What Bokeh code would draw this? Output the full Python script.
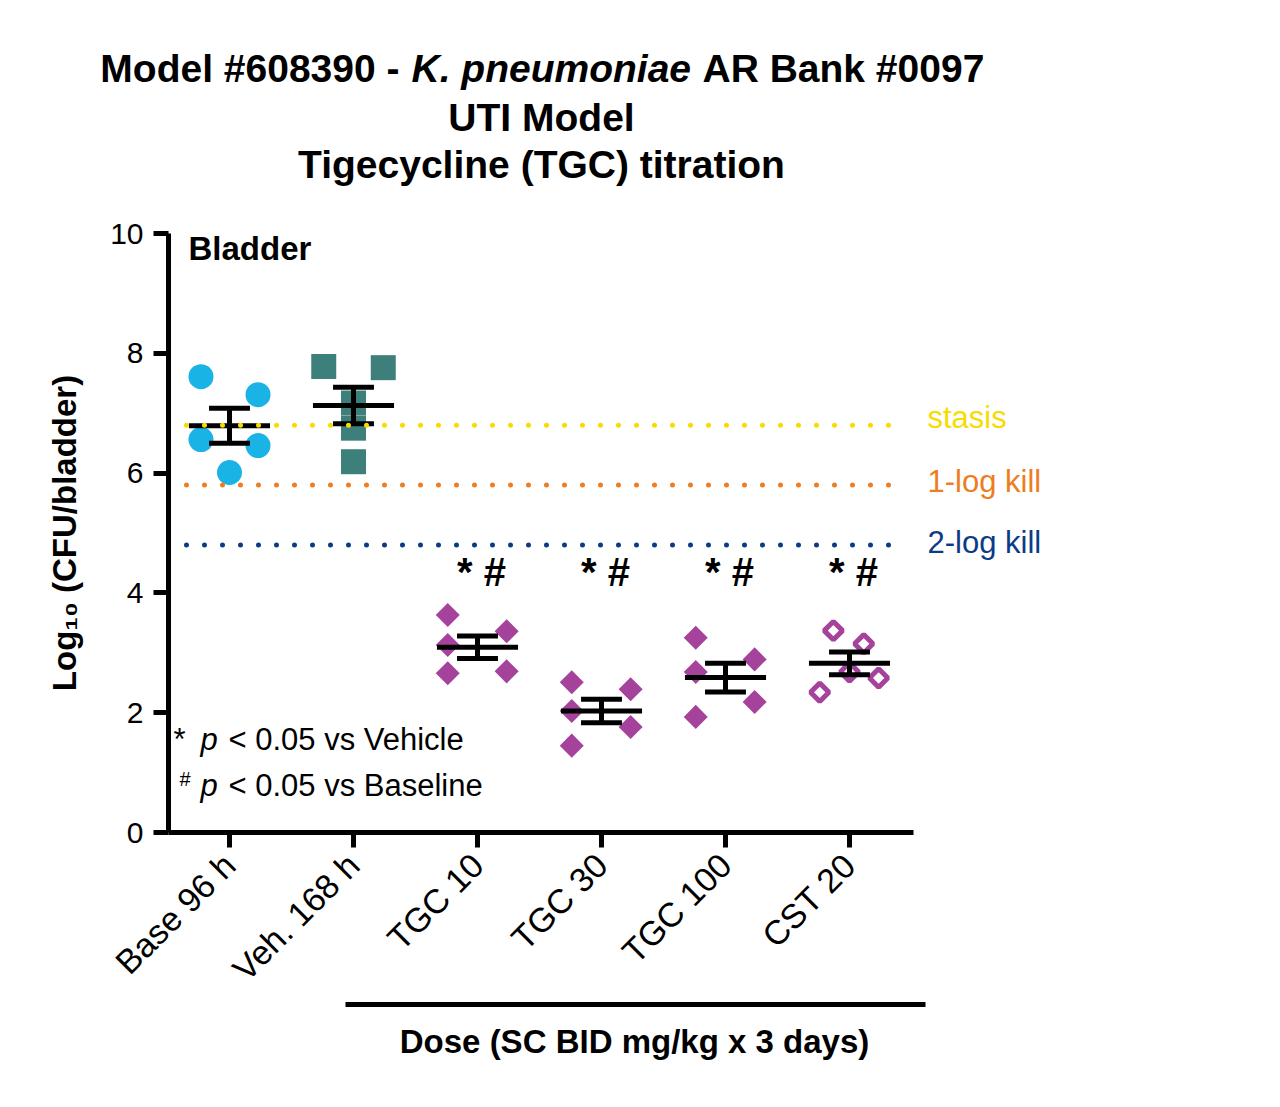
import numpy as np
from bokeh.plotting import figure
from bokeh.layouts import column
from bokeh.models import Range1d, FixedTicker, Label, LinearAxis, ColumnDataSource
from bokeh.core.properties import value
from bokeh.embed import file_html
from bokeh.resources import INLINE

# ---------------- data ----------------
categories = ["Base 96 h", "Veh. 168 h", "TGC 10", "TGC 30", "TGC 100", "CST 20"]
base_96h = [7.61, 7.31, 6.56, 6.46, 6.01]
veh_168h = [7.78, 7.76, 7.17, 6.75, 6.19]
tgc_10 = [3.63, 3.36, 3.13, 2.66, 2.69]
tgc_30 = [2.51, 2.39, 2.03, 1.76, 1.45]
tgc_100 = [3.25, 2.89, 2.68, 2.18, 1.93]
cst_20 = [3.37, 3.15, 2.68, 2.58, 2.34]
# horizontal scatter of the points within each group (category units)
jitter_base = [-0.23, 0.23, -0.23, 0.23, 0.0]
jitter_veh = [-0.24, 0.24, 0.0, 0.0, 0.0]
jitter_tgc10 = [-0.24, 0.235, -0.24, -0.24, 0.235]
jitter_tgc30 = [-0.24, 0.235, -0.24, 0.235, -0.24]
jitter_tgc100 = [-0.24, 0.235, -0.24, 0.235, -0.24]
jitter_cst20 = [-0.13, 0.115, 0.0, 0.235, -0.24]
reference_levels = [6.8, 5.8, 4.8]
reference_names = ["stasis", "1-log kill", "2-log kill"]
reference_colors = ["#F8DC00", "#EE7D22", "#0B3B85"]
significance = ["", "", "* #", "* #", "* #", "* #"]
y_ticks = [0, 2, 4, 6, 8, 10]

groups = [base_96h, veh_168h, tgc_10, tgc_30, tgc_100, cst_20]
jitters = [jitter_base, jitter_veh, jitter_tgc10, jitter_tgc30, jitter_tgc100, jitter_cst20]

FONT = "Liberation Sans"
BLACK = "#000000"
TOP_H = 200
FRAME_L, FRAME_R = 168, 1100

# page-pixel -> data helpers (for annotation placement only)
def dx(px):
    return (px - 229) / 124.0

def dy(py):
    return (832 - py) / 59.9

# ---------------- title strip ----------------
# its plot frame is aligned with the chart's frame, so x here = page pixels
top = figure(width=1280, height=TOP_H, output_backend="svg", toolbar_location=None,
             x_range=Range1d(FRAME_L, FRAME_R), y_range=Range1d(TOP_H, 0),
             x_axis_type=None, y_axis_type=None,
             min_border_left=0, min_border_right=0, min_border_top=0, min_border_bottom=0)
top.outline_line_color = None
top.grid.visible = False

# first part of the title reaches left of the frame: drawn as a tick label
title_axis = LinearAxis(ticker=FixedTicker(ticks=[68]),
                        major_label_overrides={68: "Model #608390 -"},
                        axis_line_color=None, major_tick_line_color=None,
                        minor_tick_line_color=None, major_tick_out=0, major_tick_in=0,
                        major_label_standoff=-(399 - FRAME_L),
                        major_label_text_font=FONT, major_label_text_font_size="39px",
                        major_label_text_font_style="bold", major_label_text_color=BLACK)
top.add_layout(title_axis, "left")

def tlab(x, y, t, style="bold", align="left"):
    top.add_layout(Label(x=x, y=y, text=t, text_font=FONT, text_font_size="39px",
                         text_font_style=style, text_color=BLACK, text_align=align,
                         text_baseline="middle"))

tlab(411, 68, "K. pneumoniae", "bold italic")
tlab(702, 68, "AR Bank #0097")
tlab(541, 116.5, "UTI Model", align="center")
tlab(541, 163.5, "Tigecycline (TGC) titration", align="center")

# ---------------- main chart ----------------
p = figure(width=1280, height=1107 - TOP_H, output_backend="svg", toolbar_location=None,
           x_range=Range1d(dx(FRAME_L), dx(FRAME_R)), y_range=Range1d(0, 10),
           min_border_left=FRAME_L, min_border_right=1280 - FRAME_R,
           min_border_top=233 - TOP_H, min_border_bottom=275)
p.outline_line_color = None
p.grid.visible = False
p.background_fill_color = "white"
p.border_fill_color = "white"

for ax in (p.xaxis[0], p.yaxis[0]):
    ax.axis_line_width = 5
    ax.axis_line_color = BLACK
    ax.major_tick_line_width = 5
    ax.major_tick_line_color = BLACK
    ax.major_tick_out = 15
    ax.major_tick_in = 0
    ax.minor_tick_line_color = None
    ax.major_label_text_font = FONT
    ax.major_label_text_color = BLACK

p.yaxis.bounds = (0, 10)
p.yaxis.ticker = FixedTicker(ticks=y_ticks)
p.yaxis.major_label_text_font_size = "30px"
p.yaxis.major_label_standoff = 10
p.yaxis.axis_label = "Log\u2081\u2080 (CFU/bladder)"
p.yaxis.axis_label_text_font = FONT
p.yaxis.axis_label_text_font_size = "33px"
p.yaxis.axis_label_text_font_style = "bold"
p.yaxis.axis_label_text_color = BLACK
p.yaxis.axis_label_standoff = 24

p.xaxis.bounds = (dx(FRAME_L), dx(913))
p.xaxis.ticker = FixedTicker(ticks=list(range(len(categories))))
p.xaxis.major_label_overrides = {i: c for i, c in enumerate(categories)}
p.xaxis.major_label_orientation = np.pi / 4
p.xaxis.major_label_text_font_size = "34px"
p.xaxis.major_label_standoff = 12

# dose bracket: an extra bounded axis below, carrying the x-axis title
dose_axis = LinearAxis(bounds=(dx(345), dx(925)), ticker=FixedTicker(ticks=[]),
                       axis_line_width=5, axis_line_color=BLACK,
                       major_tick_line_color=None, minor_tick_line_color=None,
                       major_tick_out=0, major_label_standoff=0,
                       major_label_text_font_size="1px",
                       axis_label="Dose (SC BID mg/kg x 3 days)",
                       axis_label_text_font=FONT, axis_label_text_font_size="33px",
                       axis_label_text_font_style="bold", axis_label_text_color=BLACK,
                       axis_label_standoff=18)
p.add_layout(dose_axis, "below")

# points
def src(i):
    xs = [i + j for j in jitters[i]]
    return ColumnDataSource(dict(x=xs, y=groups[i]))

p.scatter("x", "y", source=src(0), marker="circle", size=25,
          fill_color="#1AB3E6", line_color=None)
p.scatter("x", "y", source=src(1), marker="square", size=25,
          fill_color="#3D807B", line_color=None)
for i in (2, 3, 4):
    p.scatter("x", "y", source=src(i), marker="square", size=17, angle=np.pi / 4,
              fill_color="#A5429C", line_color=None)
p.scatter("x", "y", source=src(5), marker="square", size=13, angle=np.pi / 4,
          fill_color="white", fill_alpha=0.0, line_color="#A5429C", line_width=5)

# mean +/- SEM
means = [float(np.mean(g)) for g in groups]
sems = [float(np.std(g, ddof=1) / np.sqrt(len(g))) for g in groups]
idx = list(range(len(categories)))
mh, ch = 0.327, 0.165
ups = [m + s for m, s in zip(means, sems)]
los = [m - s for m, s in zip(means, sems)]
p.segment(x0=[i - mh for i in idx], x1=[i + mh for i in idx], y0=means, y1=means,
          line_width=5, line_color=BLACK)
p.segment(x0=idx, x1=idx, y0=los, y1=ups, line_width=5, line_color=BLACK)
p.segment(x0=[i - ch for i in idx], x1=[i + ch for i in idx], y0=ups, y1=ups,
          line_width=5, line_color=BLACK)
p.segment(x0=[i - ch for i in idx], x1=[i + ch for i in idx], y0=los, y1=los,
          line_width=5, line_color=BLACK)

# reference lines
p.segment(x0=[dx(FRAME_L)] * 3, x1=[dx(905)] * 3, y0=reference_levels, y1=reference_levels,
          line_color=reference_colors, line_width=5, line_dash="0 18", line_cap="round")

def lab(x, y, t, size, style="normal", align="left", color=BLACK):
    p.add_layout(Label(x=x, y=y, text=t, text_font=FONT, text_font_size=size,
                       text_font_style=style, text_color=color, text_align=align,
                       text_baseline="middle"))

label_mid = [dy(417), dy(481), dy(542)]
for name, col, ym in zip(reference_names, reference_colors, label_mid):
    lab(dx(927), ym, name, "31px", color=col)

# significance marks
p.text(x=idx, y=[dy(571)] * len(idx), text=significance, x_offset=4,
       text_font=value(FONT), text_font_size="40px", text_font_style="bold",
       text_color=BLACK, text_align="center", text_baseline="middle")

# panel label
lab(dx(188), dy(248), "Bladder", "33px", "bold")

# footnotes
lab(dx(173), dy(739), "*", "31px")
lab(dx(200), dy(739), "p", "31px", "italic")
lab(dx(228), dy(739), "< 0.05 vs Vehicle", "31px")
lab(dx(179), dy(778), "#", "20px")
lab(dx(200), dy(785), "p", "31px", "italic")
lab(dx(228), dy(785), "< 0.05 vs Baseline", "31px")

layout = column(top, p, spacing=0)
open("out.html", "w").write(file_html(layout, INLINE))
